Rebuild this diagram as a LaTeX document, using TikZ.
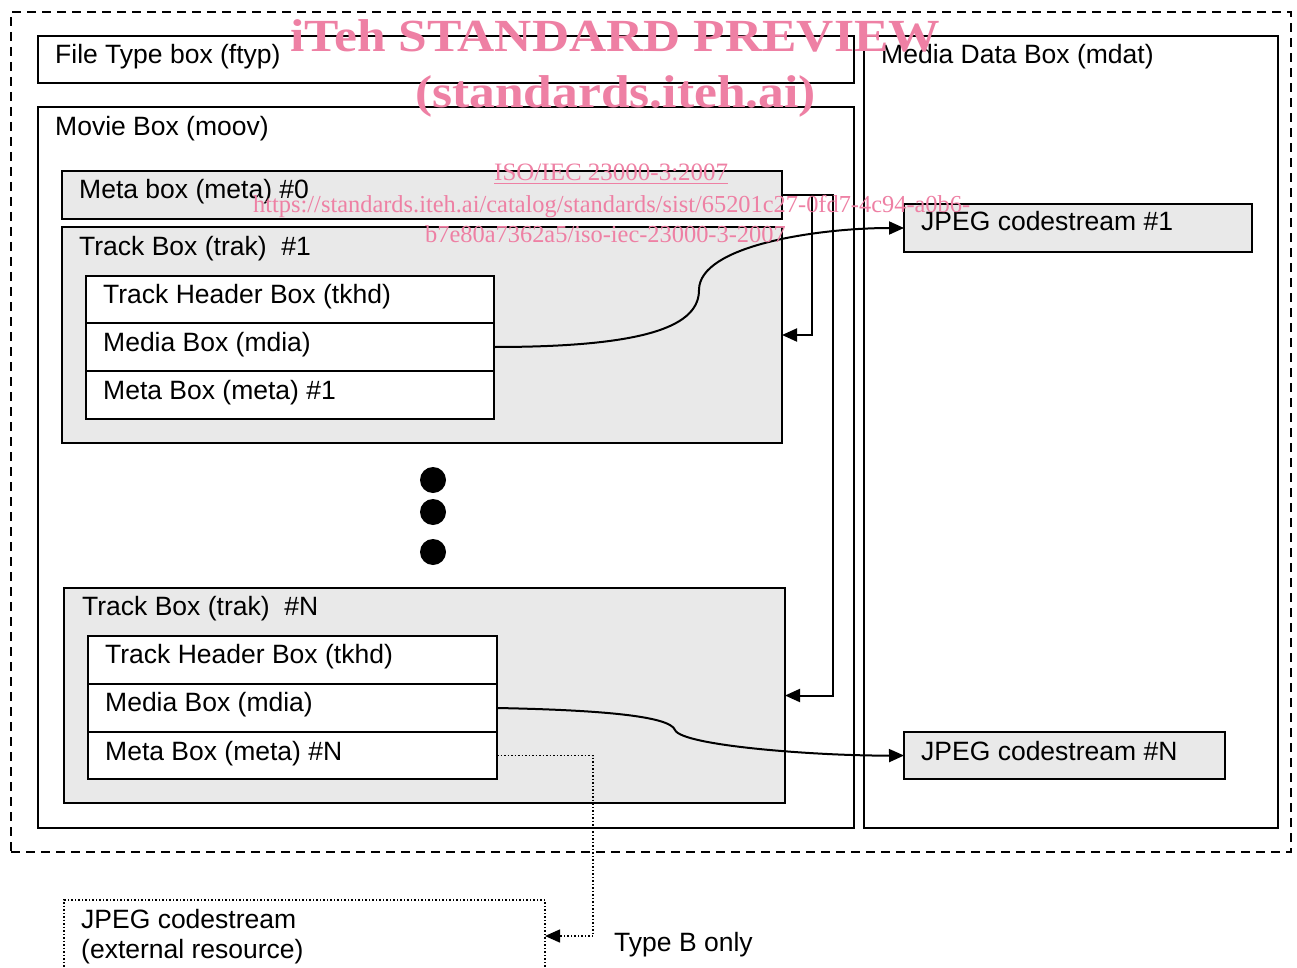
\documentclass[tikz,border=0pt]{standalone}
\usepackage{fontspec}
\setmainfont{Liberation Sans}
\newfontfamily\wmfont{Liberation Serif}
\usetikzlibrary{arrows.meta,calc}
\definecolor{boxgray}{RGB}{233,233,233}
\definecolor{wmpink}{RGB}{238,128,164}
\begin{document}
\begin{tikzpicture}[x=1pt,y=-1pt,
 box/.style={draw=black, line width=2pt, fill=white, anchor=north west, inner sep=0pt, outer sep=0pt},
 gbox/.style={box, fill=boxgray},
 lbl/.style={anchor=base west, inner sep=0pt, font=\fontsize{26.5}{30}\selectfont},
 arr/.style={line width=2pt, -{Triangle[length=15pt,width=13pt]}},
 dotline/.style={line width=1.5pt, dash pattern=on 1.5pt off 2pt},
 wm/.style={text=wmpink, inner sep=0pt, anchor=base west}
]
\useasboundingbox (0,0) rectangle (1297,968);
\clip (0,0) rectangle (1297,968);

% outer dashed frame
\node[box, fill=none, dash pattern=on 9pt off 6pt, minimum width=1280, minimum height=840] (outer) at (11,12) {};

% main boxes
\node[box, minimum width=816, minimum height=47] (ftyp) at (38,36) {};
\node[box, minimum width=414, minimum height=792] (mdat) at (864,36) {};
\node[box, minimum width=816, minimum height=721] (moov) at (38,107) {};
\node[gbox, minimum width=720, minimum height=48] (meta0) at (62,171) {};
\node[gbox, minimum width=720, minimum height=216] (trak1) at (62,227) {};
\node[box, minimum width=408, minimum height=47] (tkhd1) at (86,276) {};
\node[box, minimum width=408, minimum height=48] (mdia1) at (86,323) {};
\node[box, minimum width=408, minimum height=48] (meta1) at (86,371) {};
\node[gbox, minimum width=721, minimum height=215] (trakN) at (64,588) {};
\node[box, minimum width=409, minimum height=48] (tkhdN) at (88,636) {};
\node[box, minimum width=409, minimum height=48] (mdiaN) at (88,684) {};
\node[box, minimum width=409, minimum height=47] (metaN) at (88,732) {};
\node[gbox, minimum width=348, minimum height=48] (jpeg1) at (904,204) {};
\node[gbox, minimum width=321, minimum height=47] (jpegN) at (904,732) {};
\node[box, fill=none, dotline, minimum width=481, minimum height=100] (ext) at (64,900) {};

% labels
\node[lbl] (lftyp) at ($(ftyp.north west)+(17,28)$) {File Type box (ftyp)};
\node[lbl] (lmdat) at ($(mdat.north west)+(17,28)$) {Media Data Box (mdat)};
\node[lbl] (lmoov) at ($(moov.north west)+(17,29)$) {Movie Box (moov)};
\node[lbl] (lmeta0) at ($(meta0.north west)+(17,28)$) {Meta box (meta) \#0};
\node[lbl] (ltrak1) at ($(trak1.north west)+(17,28)$) {Track Box (trak)\ \ \#1};
\node[lbl] (ltkhd1) at ($(tkhd1.north west)+(17,27)$) {Track Header Box (tkhd)};
\node[lbl] (lmdia1) at ($(mdia1.north west)+(17,28)$) {Media Box (mdia)};
\node[lbl] (lmeta1) at ($(meta1.north west)+(17,28)$) {Meta Box (meta) \#1};
\node[lbl] (ltrakN) at ($(trakN.north west)+(18,27)$) {Track Box (trak)\ \ \#N};
\node[lbl] (ltkhdN) at ($(tkhdN.north west)+(17,27)$) {Track Header Box (tkhd)};
\node[lbl] (lmdiaN) at ($(mdiaN.north west)+(17,27)$) {Media Box (mdia)};
\node[lbl] (lmetaN) at ($(metaN.north west)+(17,28)$) {Meta Box (meta) \#N};
\node[lbl] (ljpeg1) at ($(jpeg1.north west)+(17,27)$) {JPEG codestream \#1};
\node[lbl] (ljpegN) at ($(jpegN.north west)+(17,28)$) {JPEG codestream \#N};
\node[lbl] (lext1) at ($(ext.north west)+(17,28)$) {JPEG codestream};
\node[lbl] (lext2) at ($(ext.north west)+(17,58)$) {(external resource)};
\node[lbl] (ltypeb) at (614,951) {Type B only};

% ellipsis dots
\fill (433,480) circle (13);
\fill (433,512) circle (13);
\fill (433,552) circle (13);

% connectors
\coordinate (jA) at (812,195);
\coordinate (jB) at (833,195);
\draw[arr] (meta0.east) -- (jB) -- (jB |- trakN.east) -- (trakN.east);
\draw[arr] (jA) -- (812,335) -- (trak1.east |- 0,335);
\coordinate (k1) at (699,290);
\draw[arr] (mdia1.east) .. controls (650,347) and (699,325) .. (k1)
  .. controls (699,245) and (820,228) .. (jpeg1.west);
\coordinate (k2) at (675,730);
\draw[arr] (mdiaN.east) .. controls (600,710) and (670,716) .. (k2)
  .. controls (682,746) and (820,756) .. (jpegN.west);
\draw[dotline, -{Triangle[length=15pt,width=13pt]}] (metaN.east) -- (593,755.5) -- (593,936) -- (ext.east |- 0,936);

% watermark
\node[wm, font=\wmfont\bfseries\fontsize{46}{46}\selectfont, xscale=1.12] (wm1) at (290,52) {iTeh STANDARD PREVIEW};
\node[wm, font=\wmfont\bfseries\fontsize{46}{46}\selectfont, xscale=1.12] (wm2) at (415,108) {(standards.iteh.ai)};
\node[wm, font=\wmfont\fontsize{25}{25}\selectfont] (wm3) at (494,181) {\underline{ISO/IEC 23000-3:2007}};
\node[wm, font=\wmfont\fontsize{24.4}{25}\selectfont] (wm4) at (253,213) {https://standards.iteh.ai/catalog/standards/sist/65201c27-0fd7-4c94-a0b6-};
\node[wm, font=\wmfont\fontsize{24.4}{25}\selectfont] (wm5) at (425,243) {b7e80a7362a5/iso-iec-23000-3-2007};
\end{tikzpicture}
\end{document}
